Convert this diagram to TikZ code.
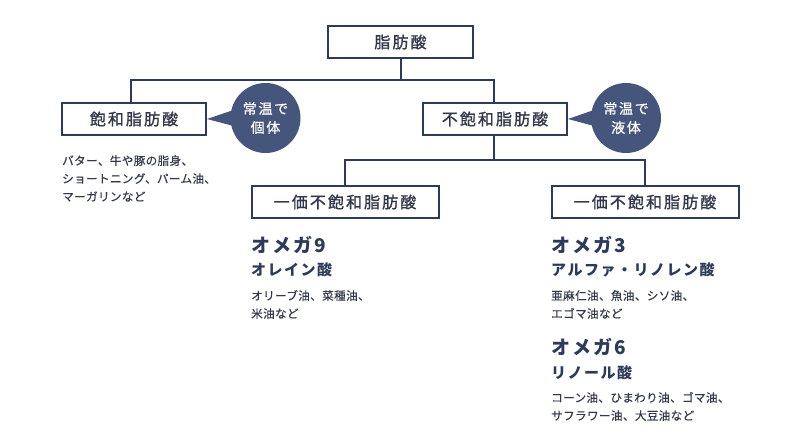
\documentclass[tikz,border=0pt]{standalone}
\usepackage{fontspec}
\usetikzlibrary{calc}
\newfontfamily\jp{Noto Sans CJK JP}
\definecolor{navy}{HTML}{2E3A5A}
\definecolor{bub}{HTML}{45557B}
\definecolor{txt}{HTML}{323849}
\begin{document}
\begin{tikzpicture}[x=1pt,y=-1pt,
  box/.style={draw=navy,line width=2pt,fill=white,minimum height=32pt,inner sep=0pt,text=txt,
    font=\jp\fontsize{16}{16}\selectfont\addfontfeatures{LetterSpace=13,FakeBold=1.2}},
  conn/.style={draw=navy,line width=2pt},
  bubble/.style={circle,fill=bub,minimum size=70pt,inner sep=0pt,text=white,align=center,
    font=\jp\fontsize{14}{19}\selectfont\addfontfeatures{LetterSpace=12,FakeBold=0.6}},
  small/.style={anchor=base west,inner sep=0pt,text=txt,
    font=\jp\fontsize{11.6}{11.6}\selectfont\addfontfeatures{LetterSpace=3,FakeBold=0.3}},
  omega/.style={anchor=base west,inner sep=0pt,text=navy,
    font=\jp\bfseries\fontsize{19}{19}\selectfont\addfontfeatures{LetterSpace=11}},
  acid/.style={anchor=base west,inner sep=0pt,text=navy,
    font=\jp\bfseries\fontsize{15}{15}\selectfont\addfontfeatures{LetterSpace=10}}]
\useasboundingbox (0,0) rectangle (800,443);

% boxes
\node[box,minimum width=145pt] (top) at (400.5,42) {脂肪酸};
\node[box,minimum width=144pt] (sat) at (134,119) {飽和脂肪酸};
\node[box,minimum width=144pt] (unsat) at (495,119) {不飽和脂肪酸};
\node[box,minimum width=187pt] (mono1) at (345,202) {一価不飽和脂肪酸};
\node[box,minimum width=187pt] (mono2) at (645,202) {一価不飽和脂肪酸};

% connectors
\coordinate (hl) at (131,80);
\coordinate (hr) at (494,80);
\coordinate (hm) at (400.5,80);
\coordinate (gm) at (494,160);
\draw[conn] (top.south) -- (hm);
\draw[conn] (sat.north -| hl) |- (hr) -- (unsat.north -| hr);
\draw[conn] (unsat.south -| gm) -- (gm);
\draw[conn] (mono1.north) |- (gm) -| (mono2.north);

% bubbles
\node[bubble] (b1) at (265.5,118) {常温で\\個体};
\node[bubble] (b2) at (626,118) {常温で\\液体};
\fill[bub] (sat.east) -- ($(b1.center)+(-32,-8)$) -- ($(b1.center)+(-32,8)$) -- cycle;
\fill[bub] (unsat.east) -- ($(b2.center)+(-32,-8)$) -- ($(b2.center)+(-32,8)$) -- cycle;

% saturated examples
\node[small] (s1) at (62,165) {バター、牛や豚の脂身、};
\node[small] (s2) at (62,183) {ショートニング、パーム油、};
\node[small] (s3) at (62,201) {マーガリンなど};

% omega 9
\node[omega] (o9) at (251,253) {オメガ9};
\node[acid] (a9) at (251,276) {オレイン酸};
\node[small] (l9a) at (251,300) {オリーブ油、菜種油、};
\node[small] (l9b) at (251,318) {米油など};

% omega 3
\node[omega] (o3) at (551,253) {オメガ3};
\node[acid] (a3) at (551,276) {アルファ・リノレン酸};
\node[small] (l3a) at (551,300) {亜麻仁油、魚油、シソ油、};
\node[small] (l3b) at (551,318) {エゴマ油など};

% omega 6
\node[omega] (o6) at (551,355) {オメガ6};
\node[acid] (a6) at (551,378) {リノール酸};
\node[small] (l6a) at (551,402) {コーン油、ひまわり油、ゴマ油、};
\node[small] (l6b) at (551,420) {サフラワー油、大豆油など};
\end{tikzpicture}
\end{document}
